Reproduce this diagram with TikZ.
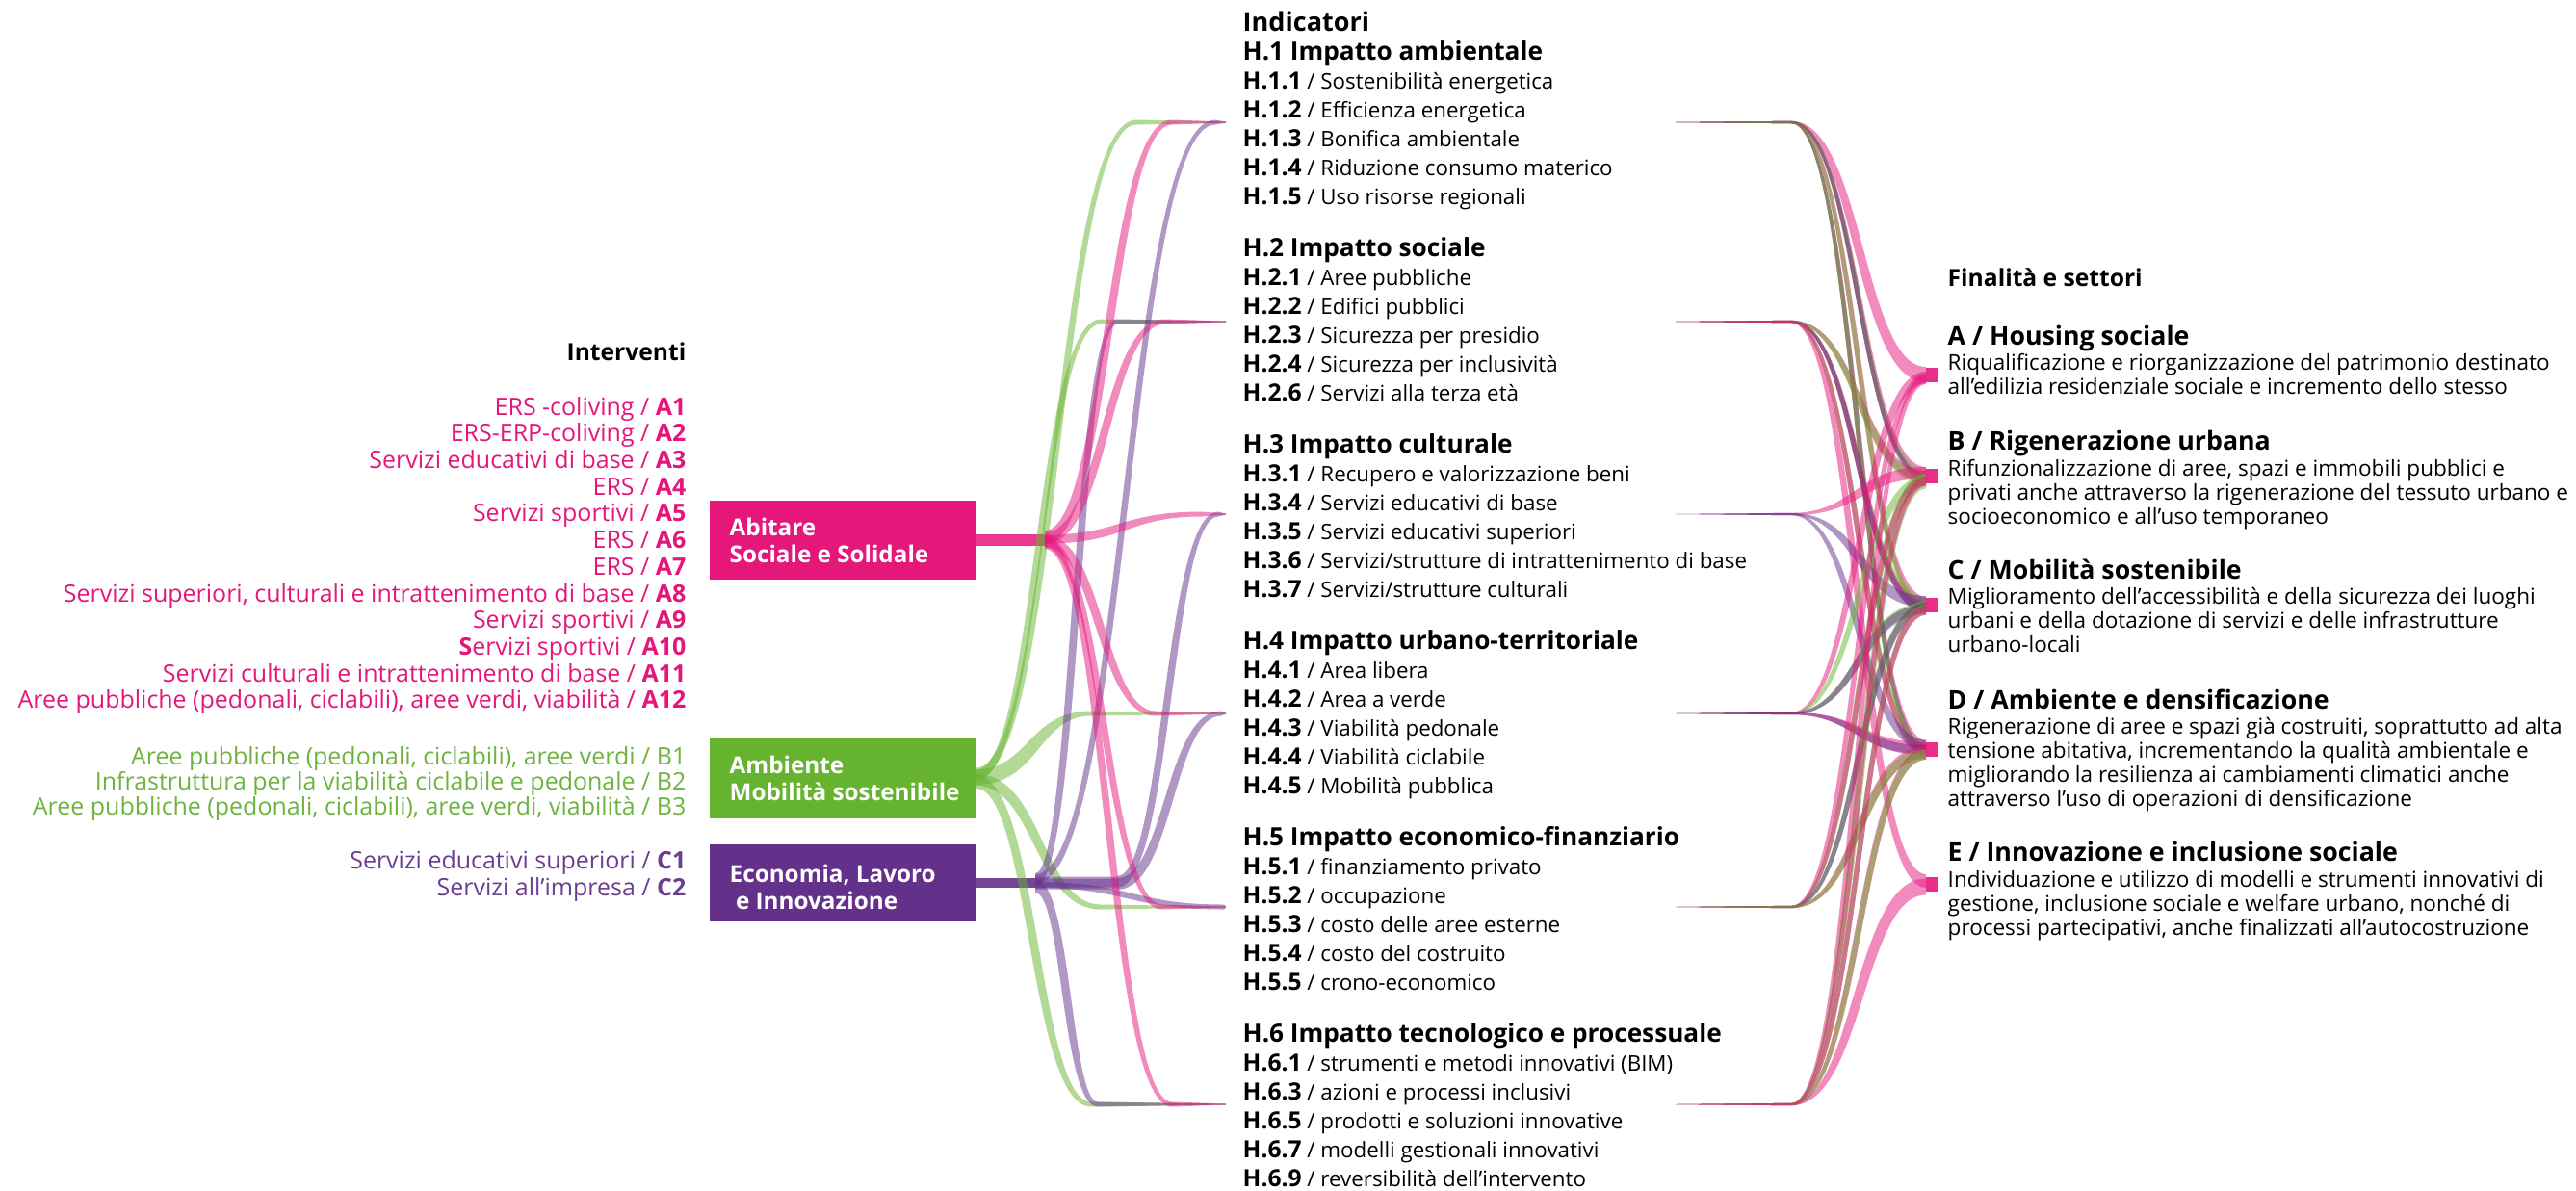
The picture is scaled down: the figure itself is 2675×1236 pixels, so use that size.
\documentclass[tikz,border=0pt]{standalone}
\usepackage{fontspec}
\setmainfont{Open Sans}
\usetikzlibrary{calc}
\definecolor{pinkC}{HTML}{E5177B}
\definecolor{greenC}{HTML}{65B32E}
\definecolor{purpleC}{HTML}{64318A}
\definecolor{pinkT}{HTML}{E4167A}
\definecolor{greenT}{HTML}{6DB33F}
\definecolor{purpleT}{HTML}{6B3D91}
\newcommand\fsz[1]{\fontsize{#1}{#1}\selectfont}
\newcommand\cd[1]{{\bfseries\fsz{7pt}#1}}
% geometry of a band of varying width along a horizontal-ended cubic
\newcommand\bandcalc[7]{%
 \pgfmathsetmacro\BDbx{#1}\pgfmathsetmacro\BDby{#2}%
 \pgfmathsetmacro\BDex{#3}\pgfmathsetmacro\BDey{#4}%
 \pgfmathsetmacro\BDha{(#5)*0.28453}\pgfmathsetmacro\BDhb{(#6)*0.28453}%
 \pgfmathsetmacro\BDcc{(#7)*((\BDex)-(\BDbx))}%
 \pgfmathsetmacro\BDdx{(\BDex)-(\BDbx)-2*(\BDcc)}\pgfmathsetmacro\BDdy{(\BDey)-(\BDby)}%
 \pgfmathsetmacro\BDL{max(veclen(\BDdx,\BDdy),0.01)}%
 \pgfmathsetmacro\BDnx{-(\BDdy)/(\BDL)}\pgfmathsetmacro\BDny{(\BDdx)/(\BDL)}%
 \pgfmathsetmacro\BDhm{((\BDha)+(\BDhb))/2}%
 \pgfmathsetmacro\BDfl{ifthenelse(abs(\BDdy)<3,1,0)}%
 \pgfmathsetmacro\BDdyy{ifthenelse(\BDfl>0.5,3,\BDdy)}%
 \pgfmathsetmacro\BDtA{(1-\BDfl)*((\BDha)-(\BDhm)*(\BDny))/(\BDdyy)}%
 \pgfmathsetmacro\BDtB{(1-\BDfl)*((\BDey)+(\BDhb)-(\BDby)-(\BDhm)*(\BDny))/(\BDdyy)+\BDfl}%
 \pgfmathsetmacro\BDtC{(1-\BDfl)*(-(\BDha)+(\BDhm)*(\BDny))/(\BDdyy)}%
 \pgfmathsetmacro\BDtD{(1-\BDfl)*((\BDey)-(\BDhb)-(\BDby)+(\BDhm)*(\BDny))/(\BDdyy)+\BDfl}%
 \pgfmathsetmacro\BDmu{(\BDbx)+(\BDcc)+(\BDhm)*(\BDnx)}%
 \pgfmathsetmacro\BDml{(\BDbx)+(\BDcc)-(\BDhm)*(\BDnx)}%
 \pgfmathsetmacro\BUx{\BDbx}\pgfmathsetmacro\BUy{(\BDby)+(\BDha)}%
 \pgfmathsetmacro\BPax{(\BDmu)+(\BDtA)*(\BDdx)}\pgfmathsetmacro\BPay{(\BDby)+(\BDha)}%
 \pgfmathsetmacro\BPbx{(\BDmu)+(\BDtB)*(\BDdx)}\pgfmathsetmacro\BPby{(\BDey)+(\BDhb)}%
 \pgfmathsetmacro\BVx{\BDex}\pgfmathsetmacro\BVy{(\BDey)+(\BDhb)}%
 \pgfmathsetmacro\BWx{\BDex}\pgfmathsetmacro\BWy{(\BDey)-(\BDhb)}%
 \pgfmathsetmacro\BQbx{(\BDml)+(\BDtD)*(\BDdx)}\pgfmathsetmacro\BQby{(\BDey)-(\BDhb)}%
 \pgfmathsetmacro\BQax{(\BDml)+(\BDtC)*(\BDdx)}\pgfmathsetmacro\BQay{(\BDby)-(\BDha)}%
 \pgfmathsetmacro\BZx{\BDbx}\pgfmathsetmacro\BZy{(\BDby)-(\BDha)}%
 \global\let\BUx\BUx\global\let\BUy\BUy\global\let\BPax\BPax\global\let\BPay\BPay
 \global\let\BPbx\BPbx\global\let\BPby\BPby\global\let\BVx\BVx\global\let\BVy\BVy
 \global\let\BWx\BWx\global\let\BWy\BWy\global\let\BQbx\BQbx\global\let\BQby\BQby
 \global\let\BQax\BQax\global\let\BQay\BQay\global\let\BZx\BZx\global\let\BZy\BZy}
% band: style, from, to, half width at start (px), half width at end (px), control fraction
\newcommand\band[6]{%
 \fill[#1] let \p1=(#2), \p2=(#3) in \pgfextra{\bandcalc{\x1}{\y1}{\x2}{\y2}{#4}{#5}{#6}}
  (\BUx pt,\BUy pt) .. controls (\BPax pt,\BPay pt) and (\BPbx pt,\BPby pt) .. (\BVx pt,\BVy pt)
  -- (\BWx pt,\BWy pt) .. controls (\BQbx pt,\BQby pt) and (\BQax pt,\BQay pt) .. (\BZx pt,\BZy pt) -- cycle;}
% left band: style, source, group, dx of turn point (neg), source half width, source y offset
\newcommand\lfl[6]{%
 \band{#1}{$(#2)+(0,#6)$}{$(#3)+(#4,0)$}{#5}{2.5}{0.5}
 \fill[#1] ($(#3)+(#4,-2.5)$) -- ($(#3)+(0,-0.5)$) -- ($(#3)+(0,0.5)$) -- ($(#3)+(#4,2.5)$) -- cycle;}
% right band: style, group, finalita, end half width, end y offset
\newcommand\rfl[5]{%
 \fill[#1] (#2) -- ($(#2)+(120,-1.2)$) -- ($(#2)+(120,1.2)$) -- cycle;
 \band{#1}{$(#2)+(120,0)$}{$(#3)+(-12,#5)$}{1.2}{#4}{0.5}}
\begin{document}
\begin{tikzpicture}[x=0.01cm,y=-0.01cm,
  fP/.style={fill=pinkC,fill opacity=0.5},
  fG/.style={fill=greenC,fill opacity=0.5},
  fU/.style={fill=purpleC,fill opacity=0.5},
  lt/.style={anchor=mid east,inner sep=0,font=\fsz{7.1pt}},
  mh/.style={anchor=mid west,inner sep=0,font=\bfseries\fsz{7.45pt}},
  mi/.style={anchor=mid west,inner sep=0,font=\fsz{6.35pt}},
  rh/.style={anchor=mid west,inner sep=0,font=\bfseries\fsz{7.6pt}},
  ri/.style={anchor=mid west,inner sep=0,font=\fsz{6.4pt}},
  box/.style={minimum width=2.76cm,inner sep=0},
  boxtext/.style={anchor=west,inner sep=0,align=left,text=white,font=\bfseries\fsz{6.9pt},
    execute at begin node={\baselineskip=8pt}}]
\useasboundingbox (0,0) rectangle (2675,1236);

% ---------- left column ----------
\node[anchor=mid east,inner sep=0,font=\bfseries\fsz{7pt}] (interv) at (713,365) {Interventi};
\begin{scope}[every node/.style={lt,text=pinkT}]
\node (a1) at (713,421.7) {ERS -coliving / \textbf{A1}};
\node (a2) at (713,449.4) {ERS-ERP-coliving / \textbf{A2}};
\node (a3) at (713,477.1) {Servizi educativi di base / \textbf{A3}};
\node (a4) at (713,504.8) {ERS / \textbf{A4}};
\node (a5) at (713,532.5) {Servizi sportivi / \textbf{A5}};
\node (a6) at (713,560.2) {ERS / \textbf{A6}};
\node (a7) at (713,587.9) {ERS / \textbf{A7}};
\node (a8) at (713,615.6) {Servizi superiori, culturali e intrattenimento di base / \textbf{A8}};
\node (a9) at (713,643.3) {Servizi sportivi / \textbf{A9}};
\node (a10) at (713,671) {\textbf{S}ervizi sportivi / \textbf{A10}};
\node (a11) at (713,698.7) {Servizi culturali e intrattenimento di base / \textbf{A11}};
\node (a12) at (713,726.4) {Aree pubbliche (pedonali, ciclabili), aree verdi, viabilità / \textbf{A12}};
\end{scope}
\begin{scope}[every node/.style={lt,text=greenT}]
\node (b1) at (713,785) {Aree pubbliche (pedonali, ciclabili), aree verdi / B1};
\node (b2) at (713,811) {Infrastruttura per la viabilità ciclabile e pedonale / B2};
\node (b3) at (713,837) {Aree pubbliche (pedonali, ciclabili), aree verdi, viabilità / B3};
\end{scope}
\begin{scope}[every node/.style={lt,text=purpleT}]
\node (c1) at (713,893) {Servizi educativi superiori / \textbf{C1}};
\node (c2) at (713,921) {Servizi all’impresa / \textbf{C2}};
\end{scope}

% ---------- boxes ----------
\node[box,fill=pinkC,minimum height=0.82cm] (boxA) at (875,561) {};
\node[box,fill=greenC,minimum height=0.84cm] (boxB) at (875,808) {};
\node[box,fill=purpleC,minimum height=0.80cm] (boxC) at (875,917) {};
\node[boxtext] (boxAt) at (757,561) {Abitare\\Sociale e Solidale};
\node[boxtext] (boxBt) at (757,808) {Ambiente\\Mobilità sostenibile};
\node[boxtext] (boxCt) at (757,921) {Economia, Lavoro\\\ e Innovazione};

% ---------- anchor points ----------
\coordinate (sA) at (1085,561);
\coordinate (sB) at (boxB.east);
\coordinate (sC) at (1075,917);
\coordinate (sC2) at (1160,917);
\foreach \i/\y in {1/127,2/334,3/534,4/741,5/942,6/1147}{
  \coordinate (gl\i) at (1273,\y);
  \coordinate (gr\i) at (1740,\y);
}
\coordinate (fA) at (2012,389);
\coordinate (fB) at (2012,494);
\coordinate (fC) at (2012,628);
\coordinate (fD) at (2012,778);
\coordinate (fE) at (2012,918);

% stems
\fill[pinkC,fill opacity=0.85] ($(boxA.east)+(0,-6)$) rectangle ($(sA)+(0,6)$);
\fill[purpleC,fill opacity=0.9] ($(boxC.east)+(0,-5)$) rectangle ($(sC)+(0,5)$);

% ---------- left bands ----------
\lfl{fG}{sB}{gl1}{-93}{5.5}{-5}
\lfl{fG}{sB}{gl2}{-130}{5.5}{-3}
\lfl{fG}{sB}{gl4}{-140}{8}{-1}
\lfl{fG}{sB}{gl5}{-130}{6}{2}
\lfl{fG}{sB}{gl6}{-140}{7}{4}
\lfl{fU}{sC}{gl1}{-11}{5}{-4}
\lfl{fU}{sC}{gl2}{-113}{7}{-3}
\band{fU}{$(sC)+(0,-1)$}{$(sC2)+(0,-1)$}{5.5}{5.5}{0.5}
\band{fU}{$(sC)+(0,1)$}{$(sC2)+(0,1)$}{5.5}{5.5}{0.5}
\lfl{fU}{sC2}{gl3}{-8}{6}{-1}
\lfl{fU}{sC2}{gl4}{-5}{6}{1}
\lfl{fU}{sC}{gl5}{-2}{3}{2}
\lfl{fU}{sC}{gl6}{-133}{7}{3}
\lfl{fP}{sA}{gl1}{-56}{7}{-3}
\lfl{fP}{sA}{gl2}{-63}{6}{-2}
\lfl{fP}{sA}{gl3}{-25}{4.5}{-1}
\lfl{fP}{sA}{gl4}{-73}{6}{1}
\lfl{fP}{sA}{gl5}{-66}{5.5}{2}
\lfl{fP}{sA}{gl6}{-56}{6}{3}

% ---------- right bands ----------
\rfl{fP}{gr1}{fA}{8}{0}
\rfl{fP}{gr1}{fB}{5}{-4}
\rfl{fG}{gr1}{fB}{4.2}{-1}
\rfl{fU}{gr1}{fB}{3.5}{2}
\rfl{fP}{gr1}{fC}{5}{-3}
\rfl{fG}{gr1}{fC}{4.2}{1}
\rfl{fP}{gr1}{fD}{5}{-4}
\rfl{fU}{gr1}{fD}{4.2}{0}
\rfl{fG}{gr1}{fD}{4.2}{3}
\rfl{fP}{gr2}{fB}{5}{0}
\rfl{fG}{gr2}{fB}{5}{3}
\rfl{fG}{gr2}{fC}{5}{-2}
\rfl{fP}{gr2}{fC}{5}{2}
\rfl{fU}{gr2}{fC}{4.2}{4}
\rfl{fG}{gr2}{fD}{5}{-1}
\rfl{fP}{gr2}{fD}{5}{2}
\rfl{fP}{gr2}{fE}{7}{-3}
\rfl{fP}{gr3}{fB}{6}{-3}
\rfl{fU}{gr3}{fC}{6}{-3}
\rfl{fU}{gr3}{fD}{5.5}{-4}
\rfl{fP}{gr4}{fA}{6}{3}
\rfl{fG}{gr4}{fB}{5}{5}
\rfl{fG}{gr4}{fC}{5}{3}
\rfl{fU}{gr4}{fC}{5}{5}
\rfl{fP}{gr4}{fD}{6}{-1}
\rfl{fU}{gr4}{fD}{5}{1}
\rfl{fP}{gr5}{fA}{5}{4}
\rfl{fG}{gr5}{fB}{6}{4}
\rfl{fP}{gr5}{fB}{5}{5}
\rfl{fG}{gr5}{fC}{5}{1}
\rfl{fU}{gr5}{fC}{5}{3}
\rfl{fP}{gr5}{fD}{6}{3}
\rfl{fG}{gr5}{fD}{5}{5}
\rfl{fP}{gr6}{fA}{5}{5}
\rfl{fG}{gr6}{fB}{7.5}{6}
\rfl{fP}{gr6}{fB}{5}{6}
\rfl{fG}{gr6}{fC}{5}{5}
\rfl{fP}{gr6}{fC}{5}{6}
\rfl{fP}{gr6}{fD}{6}{5}
\rfl{fG}{gr6}{fD}{5}{6}
\rfl{fP}{gr6}{fE}{8.5}{3}
\foreach \f in {fA,fB,fC,fD,fE}{
  \fill[pinkC,fill opacity=0.9] ($(\f)+(-12,-7.5)$) rectangle ($(\f)+(0,7.5)$);
}

% ---------- middle column ----------
\node[anchor=mid west,inner sep=0,font=\bfseries\fsz{7.7pt}] (ind) at (1290,23) {Indicatori};
\node[mh] (h1) at (1290,53) {H.1 Impatto ambientale};
\node[mi] (h11) at (1290,83) {\cd{H.1.1} / Sostenibilità energetica};
\node[mi] (h12) at (1290,113) {\cd{H.1.2} / Efficienza energetica};
\node[mi] (h13) at (1290,143) {\cd{H.1.3} / Bonifica ambientale};
\node[mi] (h14) at (1290,173) {\cd{H.1.4} / Riduzione consumo materico};
\node[mi] (h15) at (1290,203) {\cd{H.1.5} / Uso risorse regionali};
\node[mh] (h2) at (1290,257) {H.2 Impatto sociale};
\node[mi] (h21) at (1290,287) {\cd{H.2.1} / Aree pubbliche};
\node[mi] (h22) at (1290,317) {\cd{H.2.2} / Edifici pubblici};
\node[mi] (h23) at (1290,347) {\cd{H.2.3} / Sicurezza per presidio};
\node[mi] (h24) at (1290,377) {\cd{H.2.4} / Sicurezza per inclusività};
\node[mi] (h26) at (1290,407) {\cd{H.2.6} / Servizi alla terza età};
\node[mh] (h3) at (1290,461) {H.3 Impatto culturale};
\node[mi] (h31) at (1290,491) {\cd{H.3.1} / Recupero e valorizzazione beni};
\node[mi] (h34) at (1290,521) {\cd{H.3.4} / Servizi educativi di base};
\node[mi] (h35) at (1290,551) {\cd{H.3.5} / Servizi educativi superiori};
\node[mi] (h36) at (1290,581) {\cd{H.3.6} / Servizi/strutture di intrattenimento di base};
\node[mi] (h37) at (1290,611) {\cd{H.3.7} / Servizi/strutture culturali};
\node[mh] (h4) at (1290,665) {H.4 Impatto urbano-territoriale};
\node[mi] (h41) at (1290,695) {\cd{H.4.1} / Area libera};
\node[mi] (h42) at (1290,725) {\cd{H.4.2} / Area a verde};
\node[mi] (h43) at (1290,755) {\cd{H.4.3} / Viabilità pedonale};
\node[mi] (h44) at (1290,785) {\cd{H.4.4} / Viabilità ciclabile};
\node[mi] (h45) at (1290,815) {\cd{H.4.5} / Mobilità pubblica};
\node[mh] (h5) at (1290,869) {H.5 Impatto economico-finanziario};
\node[mi] (h51) at (1290,899) {\cd{H.5.1} / finanziamento privato};
\node[mi] (h52) at (1290,929) {\cd{H.5.2} / occupazione};
\node[mi] (h53) at (1290,959) {\cd{H.5.3} / costo delle aree esterne};
\node[mi] (h54) at (1290,989) {\cd{H.5.4} / costo del costruito};
\node[mi] (h55) at (1290,1019) {\cd{H.5.5} / crono-economico};
\node[mh] (h6) at (1290,1073) {H.6 Impatto tecnologico e processuale};
\node[mi] (h61) at (1290,1103) {\cd{H.6.1} / strumenti e metodi innovativi (BIM)};
\node[mi] (h63) at (1290,1133) {\cd{H.6.3} / azioni e processi inclusivi};
\node[mi] (h65) at (1290,1163) {\cd{H.6.5} / prodotti e soluzioni innovative};
\node[mi] (h67) at (1290,1193) {\cd{H.6.7} / modelli gestionali innovativi};
\node[mi] (h69) at (1290,1223) {\cd{H.6.9} / reversibilità dell’intervento};

% ---------- right column ----------
\node[anchor=mid west,inner sep=0,font=\bfseries\fsz{7pt}] (fin) at (2022,288) {Finalità e settori};
\node[rh] (tA) at (2022,349) {A / Housing sociale};
\node[ri] (dA1) at (2022,375) {Riqualificazione e riorganizzazione del patrimonio destinato};
\node[ri] (dA2) at (2022,400) {all’edilizia residenziale sociale e incremento dello stesso};
\node[rh] (tB) at (2022,458) {B / Rigenerazione urbana};
\node[ri] (dB1) at (2022,485) {Rifunzionalizzazione di aree, spazi e immobili pubblici e};
\node[ri] (dB2) at (2022,510) {privati anche attraverso la rigenerazione del tessuto urbano e};
\node[ri] (dB3) at (2022,535) {socioeconomico e all’uso temporaneo};
\node[rh] (tC) at (2022,592) {C / Mobilità sostenibile};
\node[ri] (dC1) at (2022,618) {Miglioramento dell’accessibilità e della sicurezza dei luoghi};
\node[ri] (dC2) at (2022,643) {urbani e della dotazione di servizi e delle infrastrutture};
\node[ri] (dC3) at (2022,668) {urbano-locali};
\node[rh] (tD) at (2022,727) {D / Ambiente e densificazione};
\node[ri] (dD1) at (2022,753) {Rigenerazione di aree e spazi già costruiti, soprattutto ad alta};
\node[ri] (dD2) at (2022,778) {tensione abitativa, incrementando la qualità ambientale e};
\node[ri] (dD3) at (2022,803) {migliorando la resilienza ai cambiamenti climatici anche};
\node[ri] (dD4) at (2022,828) {attraverso l’uso di operazioni di densificazione};
\node[rh] (tE) at (2022,885) {E / Innovazione e inclusione sociale};
\node[ri] (dE1) at (2022,912) {Individuazione e utilizzo di modelli e strumenti innovativi di};
\node[ri] (dE2) at (2022,937) {gestione, inclusione sociale e welfare urbano, nonché di};
\node[ri] (dE3) at (2022,962) {processi partecipativi, anche finalizzati all’autocostruzione};
\end{tikzpicture}
\end{document}
